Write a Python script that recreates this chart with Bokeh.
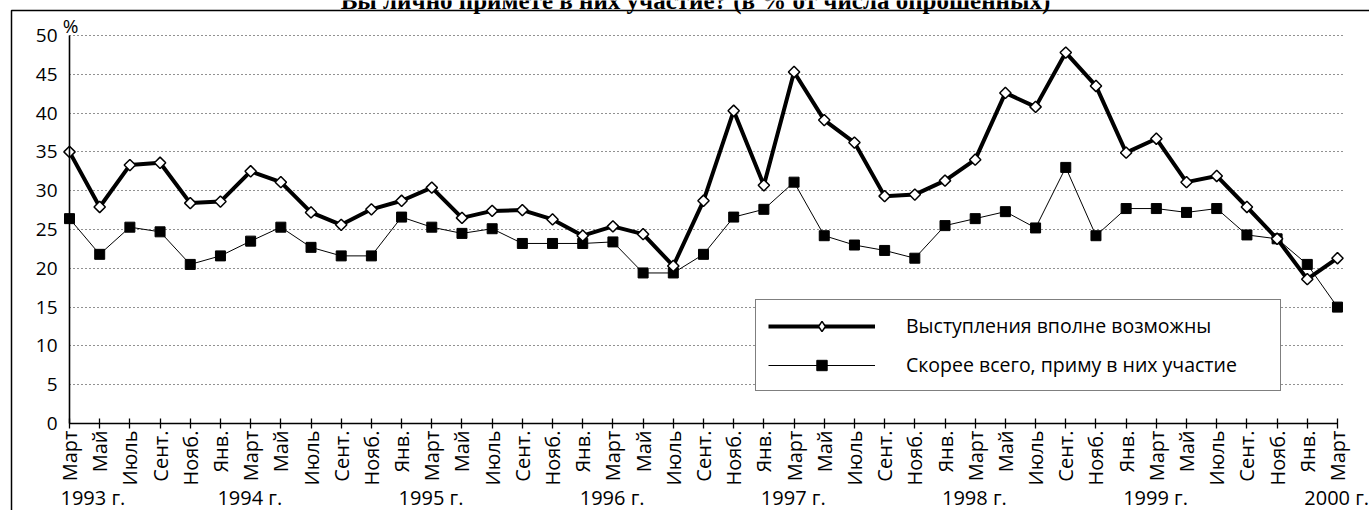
import math
from bokeh.plotting import figure
from bokeh.models import Range1d, FixedTicker, Legend, LegendItem, ColumnDataSource
from bokeh.core.properties import value
from bokeh.embed import file_html
from bokeh.resources import INLINE

# ---------------- data ----------------
months = ["Март", "Май", "Июль", "Сент.", "Нояб.",
          "Янв.", "Март", "Май", "Июль", "Сент.", "Нояб.",
          "Янв.", "Март", "Май", "Июль", "Сент.", "Нояб.",
          "Янв.", "Март", "Май", "Июль", "Сент.", "Нояб.",
          "Янв.", "Март", "Май", "Июль", "Сент.", "Нояб.",
          "Янв.", "Март", "Май", "Июль", "Сент.", "Нояб.",
          "Янв.", "Март", "Май", "Июль", "Сент.", "Нояб.",
          "Янв.", "Март"]

years = ["1993 г.", "1994 г.", "1995 г.", "1996 г.", "1997 г.", "1998 г.", "1999 г.", "2000 г."]
year_start_index = [0, 5, 11, 17, 23, 29, 35, 41]

possible = [35.0, 27.9, 33.3, 33.6, 28.4, 28.6, 32.5, 31.1, 27.2, 25.6, 27.6,
            28.7, 30.4, 26.5, 27.4, 27.5, 26.3, 24.2, 25.4, 24.4, 20.3, 28.7,
            40.3, 30.7, 45.3, 39.1, 36.2, 29.3, 29.5, 31.3, 34.0, 42.6, 40.8,
            47.8, 43.5, 34.9, 36.7, 31.1, 31.9, 27.9, 23.8, 18.6, 21.3]

participate = [26.4, 21.8, 25.3, 24.7, 20.5, 21.6, 23.5, 25.3, 22.7, 21.6, 21.6,
               26.6, 25.3, 24.5, 25.1, 23.2, 23.2, 23.2, 23.4, 19.4, 19.4, 21.8,
               26.6, 27.6, 31.1, 24.2, 23.0, 22.3, 21.3, 25.5, 26.4, 27.3, 25.2,
               33.0, 24.2, 27.7, 27.7, 27.2, 27.7, 24.3, 23.8, 20.5, 15.0]

name_possible = "Выступления вполне возможны"
name_participate = "Скорее всего, приму в них участие"
title_text = "Вы лично примете в них участие? (в % от числа опрошенных)"
y_ticks = [0, 5, 10, 15, 20, 25, 30, 35, 40, 45, 50]

# ---------------- layout (pixels) ----------------
W, H = 1369, 510
X0_PX, DX_PX = 69.0, 30.19     # screen x of first category, px per category
Y0_PX, DY_PX = 423.0, 7.76     # screen y of value 0, px per unit
FONT = "Open Sans"

def xd(px):  # screen x -> data x
    return (px - X0_PX) / DX_PX

def yd(py):  # screen y -> data y
    return (Y0_PX - py) / DY_PX

idx = list(range(len(months)))

p = figure(width=W, height=H, output_backend="svg", toolbar_location=None,
           x_range=Range1d(xd(0), xd(W)), y_range=Range1d(yd(H), yd(0)),
           min_border=0, min_border_left=0, min_border_right=0,
           min_border_top=0, min_border_bottom=0, title=None)
p.outline_line_color = None
p.background_fill_color = "white"
p.border_fill_color = "white"

# y axis (fixed at the first category)
p.yaxis.fixed_location = 0
p.yaxis.bounds = (0, y_ticks[-1])
p.yaxis.ticker = FixedTicker(ticks=y_ticks)
p.yaxis.axis_line_color = "black"
p.yaxis.axis_line_width = 1.6
p.yaxis.major_tick_in = 0
p.yaxis.major_tick_out = 0
p.yaxis.minor_tick_line_color = None
p.yaxis.major_label_standoff = 12
p.yaxis.major_label_text_font = FONT
p.yaxis.major_label_text_font_size = "19px"
p.yaxis.major_label_text_color = "black"

# x axis (fixed at 0)
p.xaxis.fixed_location = 0
p.xaxis.bounds = (0, len(months) - 1)
p.xaxis.ticker = FixedTicker(ticks=idx)
p.xaxis.major_label_overrides = {i: m for i, m in enumerate(months)}
p.xaxis.major_label_orientation = math.pi / 2
p.xaxis.axis_line_color = "black"
p.xaxis.axis_line_width = 1.6
p.xaxis.major_tick_in = 5
p.xaxis.major_tick_out = 5
p.xaxis.major_tick_line_color = "black"
p.xaxis.major_tick_line_width = 1.3
p.xaxis.minor_tick_line_color = None
p.xaxis.major_label_standoff = 2
p.xaxis.major_label_text_font = FONT
p.xaxis.major_label_text_font_size = "20px"
p.xaxis.major_label_text_color = "black"

# grid
p.xgrid.visible = False
p.ygrid.ticker = FixedTicker(ticks=y_ticks[1:])
p.ygrid.grid_line_color = "#222222"
p.ygrid.grid_line_dash = "1 3"
p.ygrid.grid_line_width = 1
p.ygrid.cross_bounds = (0, xd(1343))

# outer frame of the figure (left and top edges)
p.line(x=[xd(11), xd(11), xd(W + 5)], y=[yd(H + 5), yd(10), yd(10)],
       line_color="black", line_width=1.5)

# series
r2l = p.line(idx, participate, line_color="black", line_width=1)
r2m = p.scatter(idx, participate, marker="square", size=10, fill_color="black",
                line_color="black")
r1l = p.line(idx, possible, line_color="black", line_width=4, line_join="round")
r1m = p.scatter(idx, possible, marker="square", angle=math.pi / 4, size=8,
                fill_color="white", line_color="black", line_width=1.5)
# legend-only glyph (diamond marker, same data, not drawn in the plot area)
r1leg = p.scatter(idx, possible, marker="diamond", size=10, fill_color="white",
                  line_color="black", line_width=1.5, visible=False)

legend = Legend(items=[LegendItem(label=name_possible, renderers=[r1l, r1leg]),
                       LegendItem(label=name_participate, renderers=[r2l, r2m])],
                location=(755, H - 391), orientation="vertical",
                glyph_width=107, glyph_height=26, label_height=26,
                label_standoff=31, label_width=362, spacing=12, padding=12,
                margin=0, border_line_color="black", border_line_width=1.5,
                background_fill_color="white", background_fill_alpha=1,
                label_text_font=FONT, label_text_font_size="19.5px",
                label_text_color="black", click_policy="none")
p.add_layout(legend, "center")

# year labels
ysrc = ColumnDataSource(dict(x=[i - 0.1 if i > 0 else i - 0.3 for i in year_start_index],
                             y=[yd(497)] * len(years), t=years))
p.text(x="x", y="y", text="t", source=ysrc, text_align="left",
       text_baseline="middle", text_font=value(FONT), text_font_size="20px",
       text_color="black")

# percent sign
p.text(x=[xd(70)], y=[yd(25)], text=["%"], text_align="center", text_baseline="middle",
       text_font=value(FONT), text_font_size="19px", text_color="black")

# title (cut at the top edge, as in the original)
p.text(x=[xd(695)], y=[yd(0)], text=[title_text], text_align="center",
       text_baseline="middle", text_font=value("Liberation Serif"),
       text_font_style="bold", text_font_size="25px", text_color="black")

open("out.html", "w").write(file_html(p, INLINE))
